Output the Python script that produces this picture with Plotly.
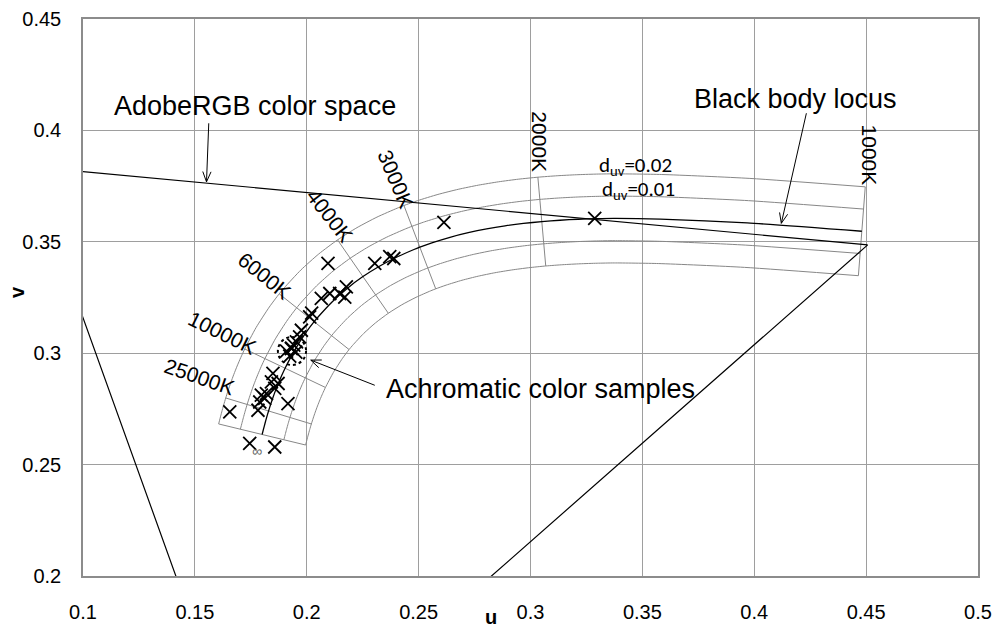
import numpy as np
import plotly.graph_objects as go

# ---------------- data ----------------
# Planckian (black body) locus in CIE 1960 (u, v) with isotemperature-line slopes
MIRED = [0, 10, 20, 30, 40, 50, 60, 70, 80, 90, 100, 125, 150, 166.7, 175, 200, 225, 250,
         275, 300, 325, 333.3, 350, 375, 400, 425, 450, 475, 500, 525, 550, 575, 600,
         666.7, 800, 1000]
LOCUS_U = [0.18006, 0.18066, 0.18133, 0.18208, 0.18293, 0.18388, 0.18494, 0.18611, 0.18740,
           0.18880, 0.19032, 0.19462, 0.19962, 0.20330, 0.20525, 0.21142, 0.21807, 0.22511,
           0.23247, 0.24010, 0.24792, 0.25054, 0.25591, 0.26400, 0.27218, 0.28039, 0.28863,
           0.29685, 0.30505, 0.31320, 0.32129, 0.32931, 0.33724, 0.35799, 0.39682, 0.44808]
LOCUS_V = [0.26352, 0.26589, 0.26846, 0.27119, 0.27407, 0.27709, 0.28021, 0.28342, 0.28668,
           0.28997, 0.29326, 0.30141, 0.30921, 0.31414, 0.31647, 0.32312, 0.32909, 0.33439,
           0.33904, 0.34308, 0.34655, 0.34759, 0.34951, 0.35200, 0.35407, 0.35577, 0.35714,
           0.35823, 0.35907, 0.35968, 0.36011, 0.36038, 0.36051, 0.36022, 0.35849, 0.35473]
ISO_SLOPE = [-0.24341, -0.25479, -0.26876, -0.28539, -0.30470, -0.32675, -0.35156, -0.37915,
             -0.40955, -0.44278, -0.47888, -0.58204, -0.70471, -0.801, -0.84901, -1.0182,
             -1.2168, -1.4512, -1.7298, -2.0637, -2.4681, -2.633, -2.9641, -3.5814,
             -4.3633, -5.3762, -6.7262, -8.5955, -11.324, -15.628, -23.325, -40.770, -116.45,
             29.5, 16.4, 13.0]

DUV_LEVELS = [0.02, 0.01, -0.01, -0.02]

ISO_MIRED = [0, 40, 100, 166.7, 250, 333.3, 500, 1000]
ISO_LABELS = ["", "25000K", "10000K", "6000K", "4000K", "3000K", "2000K", "1000K"]

# AdobeRGB gamut triangle (R, G, B, R) in CIE 1960 (u, v)
ADOBE_U = [0.4507, 0.0757, 0.1754, 0.4507]
ADOBE_V = [0.3486, 0.3838, 0.1053, 0.3486]

# measured samples
SAMPLE_U = [0.3287, 0.2613, 0.2304, 0.2371, 0.2389, 0.2095, 0.2177, 0.2147, 0.2170, 0.2103,
            0.2065, 0.2022, 0.2013, 0.1976, 0.1968, 0.1954, 0.1931, 0.1910, 0.1933, 0.1951,
            0.1924, 0.1942, 0.1849, 0.1842, 0.1872, 0.1857, 0.1820, 0.1797, 0.1812, 0.1790,
            0.1782, 0.1916, 0.1656, 0.1745, 0.1857]
SAMPLE_V = [0.3605, 0.3587, 0.3403, 0.3433, 0.3425, 0.3403, 0.3298, 0.3268, 0.3252, 0.3268,
            0.3246, 0.3180, 0.3163, 0.3103, 0.3073, 0.3051, 0.3021, 0.3009, 0.3023, 0.3005,
            0.2987, 0.3036, 0.2909, 0.2871, 0.2864, 0.2842, 0.2819, 0.2812, 0.2797, 0.2781,
            0.2744, 0.2774, 0.2737, 0.2595, 0.2579]

# achromatic sample highlight (centre u, v and radius)
CIRCLE_CENTER = (0.1934, 0.3010)
CIRCLE_RADIUS = 0.0063

# callout arrows: (head u, head v, tail u, tail v)
CALLOUT_ARROWS = [(0.1552, 0.3769, 0.1562, 0.4032),
                  (0.4121, 0.3583, 0.4233, 0.4077),
                  (0.2018, 0.2969, 0.2304, 0.2856)]

X_TICKS = [0.1, 0.15, 0.2, 0.25, 0.3, 0.35, 0.4, 0.45, 0.5]
X_TICK_TEXT = ["0.1", "0.15", "0.2", "0.25", "0.3", "0.35", "0.4", "0.45", "0.5"]
Y_TICKS = [0.2, 0.25, 0.3, 0.35, 0.4, 0.45]
Y_TICK_TEXT = ["0.2", "0.25", "0.3", "0.35", "0.4", "0.45"]

# ---------------- styling ----------------
W, H = 998, 630
ML, MR, MT, MB = 83, 20, 19, 54
X_RANGE = [0.1, 0.5]
Y_RANGE = [0.2, 0.45]
LABEL_ANGLE = [0, 19, 26, 39, 52, 67, 90, 90]
LABEL_SHIFT = [(0, 0), (-27, 21), (-23, 16), (-15, 18), (-8, 24), (-8, 26), (2, 35), (4, 32)]
GRID_GRAY = "#9e9e9e"
CURVE_GRAY = "#878787"
FONT = "Liberation Sans, Arial, sans-serif"

# pixel scale of the plot area (for arrowhead geometry)
SX = (W - ML - MR) / (X_RANGE[1] - X_RANGE[0])
SY = (H - MT - MB) / (Y_RANGE[1] - Y_RANGE[0])

# ---------------- geometry ----------------
lu = np.array(LOCUS_U)
lv = np.array(LOCUS_V)
t = np.array(ISO_SLOPE)
n = np.sqrt(1 + t ** 2)
sgn = np.where(t < 0, -1.0, 1.0)
du = sgn / n
dv = sgn * t / n

fig = go.Figure()

# d_uv curves
for d in DUV_LEVELS:
    fig.add_trace(go.Scatter(x=lu + d * du, y=lv + d * dv, mode="lines",
                             line=dict(color=CURVE_GRAY, width=1, shape="spline", smoothing=0.6),
                             hoverinfo="skip"))

# isotemperature lines
iso_x, iso_y, ends = [], [], []
for m in ISO_MIRED:
    i = MIRED.index(m)
    top = (lu[i] + 0.02 * du[i], lv[i] + 0.02 * dv[i])
    bot = (lu[i] - 0.02 * du[i], lv[i] - 0.02 * dv[i])
    iso_x += [top[0], bot[0], None]
    iso_y += [top[1], bot[1], None]
    ends.append(top)
fig.add_trace(go.Scatter(x=iso_x, y=iso_y, mode="lines",
                         line=dict(color=CURVE_GRAY, width=1), hoverinfo="skip"))

# black body locus
fig.add_trace(go.Scatter(x=LOCUS_U, y=LOCUS_V, mode="lines",
                         line=dict(color="black", width=1.3, shape="spline", smoothing=0.6)))

# AdobeRGB triangle
fig.add_trace(go.Scatter(x=ADOBE_U, y=ADOBE_V, mode="lines",
                         line=dict(color="black", width=1.2)))

# samples
fig.add_trace(go.Scatter(x=SAMPLE_U, y=SAMPLE_V, mode="markers",
                         marker=dict(symbol="x-thin", size=13,
                                     line=dict(color="black", width=1.8))))

# dotted circle
cu, cv = CIRCLE_CENTER
fig.add_shape(type="circle", xref="x", yref="y",
              x0=cu - CIRCLE_RADIUS, x1=cu + CIRCLE_RADIUS,
              y0=cv - CIRCLE_RADIUS, y1=cv + CIRCLE_RADIUS,
              line=dict(color="black", width=2, dash="dot"))

# callout arrows: shaft + open chevron head
ax_, ay_ = [], []
HEAD_LEN, HEAD_ANG = 11.0, np.radians(22)
for hx, hy, tx, ty in CALLOUT_ARROWS:
    ax_ += [tx, hx, None]
    ay_ += [ty, hy, None]
    px, py = (tx - hx) * SX, (ty - hy) * SY
    L = np.hypot(px, py)
    ux, uy = px / L, py / L
    for s in (1, -1):
        c, sn = np.cos(s * HEAD_ANG), np.sin(s * HEAD_ANG)
        rx, ry = ux * c - uy * sn, ux * sn + uy * c
        ax_ += [hx, hx + rx * HEAD_LEN / SX, None]
        ay_ += [hy, hy + ry * HEAD_LEN / SY, None]
fig.add_trace(go.Scatter(x=ax_, y=ay_, mode="lines",
                         line=dict(color="black", width=1), hoverinfo="skip"))

# temperature labels
for (ex, ey), lab, ang, (sx, sy) in zip(ends, ISO_LABELS, LABEL_ANGLE, LABEL_SHIFT):
    if not lab:
        continue
    fig.add_annotation(x=ex, y=ey, text=lab, showarrow=False, textangle=ang,
                       xshift=sx, yshift=sy, font=dict(family=FONT, size=21, color="black"))

# infinity mark
fig.add_annotation(x=0.1776, y=0.2560, text="∞", showarrow=False,
                   font=dict(family=FONT, size=14, color="#666666"))

# d_uv labels
duv_font = dict(family="Carlito, Lato, sans-serif", size=21, color="black")
fig.add_annotation(x=0.3296, y=0.3840, text="d<sub>uv</sub>=0.02", showarrow=False,
                   xanchor="left", yanchor="middle", font=duv_font)
fig.add_annotation(x=0.3309, y=0.3732, text="d<sub>uv</sub>=0.01", showarrow=False,
                   xanchor="left", yanchor="middle", font=duv_font)

# callout texts
big = dict(family=FONT, size=27, color="black")
fig.add_annotation(x=0.1128, y=0.4109, text="AdobeRGB color space", showarrow=False,
                   xanchor="left", yanchor="middle", font=big)
fig.add_annotation(x=0.3720, y=0.4141, text="Black body locus", showarrow=False,
                   xanchor="left", yanchor="middle", font=big)
fig.add_annotation(x=0.2343, y=0.2838, text="Achromatic color samples", showarrow=False,
                   xanchor="left", yanchor="middle", font=big)

# axis titles
fig.add_annotation(xref="paper", yref="paper", x=0.4559, y=-0.0745, text="<b>u</b>",
                   xanchor="center", yanchor="middle",
                   showarrow=False, font=dict(family=FONT, size=20, color="black"))
fig.add_annotation(xref="paper", yref="paper", x=-0.0737, y=0.51, text="<b>v</b>",
                   xanchor="center", yanchor="middle",
                   showarrow=False, textangle=-90, font=dict(family=FONT, size=20, color="black"))

fig.update_layout(
    width=W, height=H,
    margin=dict(l=ML, r=MR, t=MT, b=MB, autoexpand=False),
    plot_bgcolor="white", paper_bgcolor="white",
    showlegend=False,
    font=dict(family=FONT, size=20, color="black"),
)
fig.update_xaxes(range=X_RANGE, tickvals=X_TICKS, ticktext=X_TICK_TEXT,
                 showgrid=True, gridcolor=GRID_GRAY, gridwidth=1.3,
                 showline=True, linecolor="#8c8c8c", linewidth=1.5, mirror=True,
                 zeroline=False, ticks="", ticklabelstandoff=17, automargin=False)
fig.update_yaxes(range=Y_RANGE, tickvals=Y_TICKS, ticktext=Y_TICK_TEXT,
                 showgrid=True, gridcolor=GRID_GRAY, gridwidth=1.3,
                 showline=True, linecolor="#8c8c8c", linewidth=1.5, mirror=True,
                 zeroline=False, ticks="", ticklabelstandoff=16, automargin=False)

fig.write_html("out.html", config={"displayModeBar": False},
               post_script="document.body.style.margin='0';document.body.style.overflow='hidden';")
